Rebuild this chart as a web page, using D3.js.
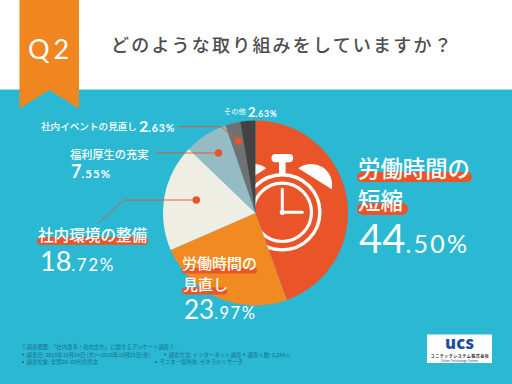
<!DOCTYPE html>
<html lang="ja">
<head>
<meta charset="utf-8">
<script src="https://cdn.jsdelivr.net/npm/d3@7"></script>
<style>
  html, body { margin: 0; padding: 0; background: #fff; }
  svg { display: block; }
  text { font-family: "Noto Sans CJK JP", "Noto Sans", sans-serif; }
  .num { font-family: Lato, "Open Sans", sans-serif; }
</style>
</head>
<body>
<div id="chart"></div>
<script>
// Chart data
const categories = ["労働時間の短縮", "労働時間の見直し", "社内環境の整備", "福利厚生の充実", "社内イベントの見直し", "その他"];
const values = [44.50, 23.97, 18.72, 7.55, 2.63, 2.63];
const sliceColors = ["#e95428", "#f18a21", "#eeeee5", "#95bcc4", "#727171", "#464242"];

const title = "どのような取り組みをしていますか？";
const badge = "Q2";
const surveyNotes = [
  "《 調査概要: 「社内改革・社内文化」に関するアンケート調査 》",
  "調査日: 2018年10月24日 (木)〜2018年10月25日(金)",
  "調査方法: インターネット調査",
  "調査人数: 2,284人",
  "調査対象: 全国20~60代の男女",
  "モニター提供先: ゼネラルリサーチ"
];

const width = 512;
const height = 384;
const cx = 255.5;
const cy = 213;
const radius = 92.5;
const red = "#e95428";

const svg = d3.select("#chart")
  .append("svg")
  .attr("width", width)
  .attr("height", height);

// Background and header
svg.append("rect").attr("width", width).attr("height", height).attr("fill", "#fff");
svg.append("rect").attr("y", 89.5).attr("width", width).attr("height", height - 89.5).attr("fill", "#2bb8d2");

svg.append("path")
  .attr("d", "M19.5,0H79V108.5L49.2,90L19.5,108.5Z")
  .attr("fill", "#f08620");
svg.append("text")
  .attr("class", "num")
  .attr("x", 28).attr("y", 59)
  .attr("font-size", 27)
  .attr("letter-spacing", 4)
  .attr("fill", "#fff")
  .text(badge);

svg.append("text")
  .attr("x", 111).attr("y", 51.5)
  .attr("font-size", 18)
  .attr("font-weight", 500)
  .attr("letter-spacing", 2.2)
  .attr("fill", "#4d4d4d")
  .text(title);

// Pie
const pie = d3.pie().sort(null).value(d => d);
const arc = d3.arc().innerRadius(0).outerRadius(radius);
const arcs = pie(values);

const pieG = svg.append("g").attr("transform", `translate(${cx},${cy})`);
pieG.selectAll("path")
  .data(arcs)
  .enter()
  .append("path")
  .attr("d", arc)
  .attr("fill", (d, i) => sliceColors[i]);

// Alarm clock, cut off by the edge of the biggest slice
svg.append("clipPath").attr("id", "firstSlice")
  .append("path")
  .attr("transform", `translate(${cx},${cy})`)
  .attr("d", arc(arcs[0]));

const clock = svg.append("g")
  .attr("clip-path", "url(#firstSlice)")
  .append("g")
  .attr("transform", "translate(282.3,212.3)");

clock.append("circle").attr("r", 37.6).attr("fill", "none").attr("stroke", "#fff").attr("stroke-width", 3.4);
clock.append("circle").attr("r", 29.2).attr("fill", "none").attr("stroke", "#fff").attr("stroke-width", 3.2);
clock.append("rect").attr("x", -3.3).attr("y", -51).attr("width", 6.6).attr("height", 13).attr("fill", "#fff");
clock.append("rect").attr("x", -10.8).attr("y", -58.3).attr("width", 21.6).attr("height", 8.3).attr("rx", 4).attr("fill", "#fff");
clock.append("path").attr("d", "M16,-44A21,21 0 0 1 49.4,-23Z").attr("fill", "#fff");
clock.append("path").attr("d", "M-16,-44A21,21 0 0 0 -49.4,-23Z").attr("fill", "#fff");
clock.append("path")
  .attr("d", "M0,-23V0H20")
  .attr("fill", "none")
  .attr("stroke", "#fff")
  .attr("stroke-width", 3)
  .attr("stroke-linecap", "round");
clock.append("circle").attr("r", 2.6).attr("fill", "#fff");

// Leader lines
function leader(points) {
  svg.append("path")
    .attr("d", d3.line()(points))
    .attr("fill", "none")
    .attr("stroke", red)
    .attr("stroke-width", 0.9);
  const end = points[0];
  svg.append("circle").attr("cx", end[0]).attr("cy", end[1]).attr("r", 3.7).attr("fill", red);
}
leader([[238.3, 141], [221, 126.7], [178, 126.7]]);
leader([[218.5, 153], [155, 153]]);
leader([[196.3, 200], [124, 200], [98, 223.5]]);

// Labels
function bar(x, y, w, h) {
  svg.append("rect")
    .attr("x", x).attr("y", y)
    .attr("width", w).attr("height", h)
    .attr("rx", h / 2)
    .attr("fill", red);
}
function label(str, x, y, size) {
  svg.append("text")
    .attr("x", x).attr("y", y)
    .attr("font-size", size)
    .attr("font-weight", 500)
    .attr("fill", "#fff")
    .text(str);
}
// big part of the number, then the rest smaller
function percent(v, x, y, bigSize, smallSize, weight) {
  const parts = v.toFixed(2).split(".");
  const t = svg.append("text")
    .attr("class", "num")
    .attr("x", x).attr("y", y)
    .attr("font-weight", weight)
    .attr("fill", "#fff");
  t.append("tspan").attr("font-size", bigSize).text(parts[0]);
  t.append("tspan").attr("font-size", smallSize).attr("letter-spacing", smallSize * 0.09).text("." + parts[1] + "%");
}

bar(357, 172, 115, 10);
label(categories[0].slice(0, 5), 358, 177, 22.4);
bar(357, 203, 51, 12);
label(categories[0].slice(5), 358, 209, 22.4);
percent(values[0], 359, 253, 40, 25, 400);

bar(181.7, 268, 75.3, 5.5);
label(categories[1].slice(0, 5), 182, 269, 15);
bar(181.7, 287.5, 45.3, 7);
label(categories[1].slice(5), 183, 289.5, 15);
percent(values[1], 184, 319, 26, 16.5, 400);

bar(37, 237, 111, 7.7);
label(categories[2], 38, 240.5, 15.6);
percent(values[2], 40, 271, 27, 17, 400);

label(categories[3], 70, 159, 11.2);
percent(values[3], 71, 178, 18, 11.5, 700);

label(categories[4], 41, 129.5, 9.6);
percent(values[4], 139, 131.5, 16, 10.5, 700);

svg.append("text").attr("x", 224).attr("y", 113.5).attr("font-size", 7.2).attr("fill", "#fff").text(categories[5]);
percent(values[5], 248, 116.5, 13, 8.5, 700);

// Survey notes
const noteColor = "#17708c";
function note(str, x, y, dot) {
  if (dot) {
    svg.append("circle").attr("cx", x).attr("cy", y - 1.9).attr("r", 1).attr("fill", noteColor);
  }
  svg.append("text")
    .attr("x", dot ? x + 3.5 : x).attr("y", y)
    .attr("font-size", 5.4)
    .attr("fill", noteColor)
    .text(str);
}
note(surveyNotes[0], 20, 348.5);
note(surveyNotes[1], 23, 356.5, true);
note(surveyNotes[2], 165, 356.5, true);
note(surveyNotes[3], 244, 356.5, true);
note(surveyNotes[4], 23, 364, true);
note(surveyNotes[5], 156, 364, true);

// Logo
svg.append("rect").attr("x", 427).attr("y", 334.5).attr("width", 65).attr("height", 28.5).attr("fill", "#fff");
svg.append("text")
  .attr("x", 459.5).attr("y", 349)
  .attr("text-anchor", "middle")
  .attr("font-family", "Lato")
  .attr("font-weight", 900)
  .attr("font-size", 17)
  .attr("fill", "#1d4f9c")
  .text("ucs");
svg.append("text")
  .attr("x", 460).attr("y", 358)
  .attr("text-anchor", "middle")
  .attr("font-weight", 700)
  .attr("font-size", 4)
  .attr("letter-spacing", 0.5)
  .attr("fill", "#222")
  .text("ユニテックシステム株式会社");
svg.append("text")
  .attr("x", 459.5).attr("y", 362)
  .attr("text-anchor", "middle")
  .attr("font-size", 3)
  .attr("fill", "#1d4f9c")
  .text("Unitec Technology System");
</script>
</body>
</html>
